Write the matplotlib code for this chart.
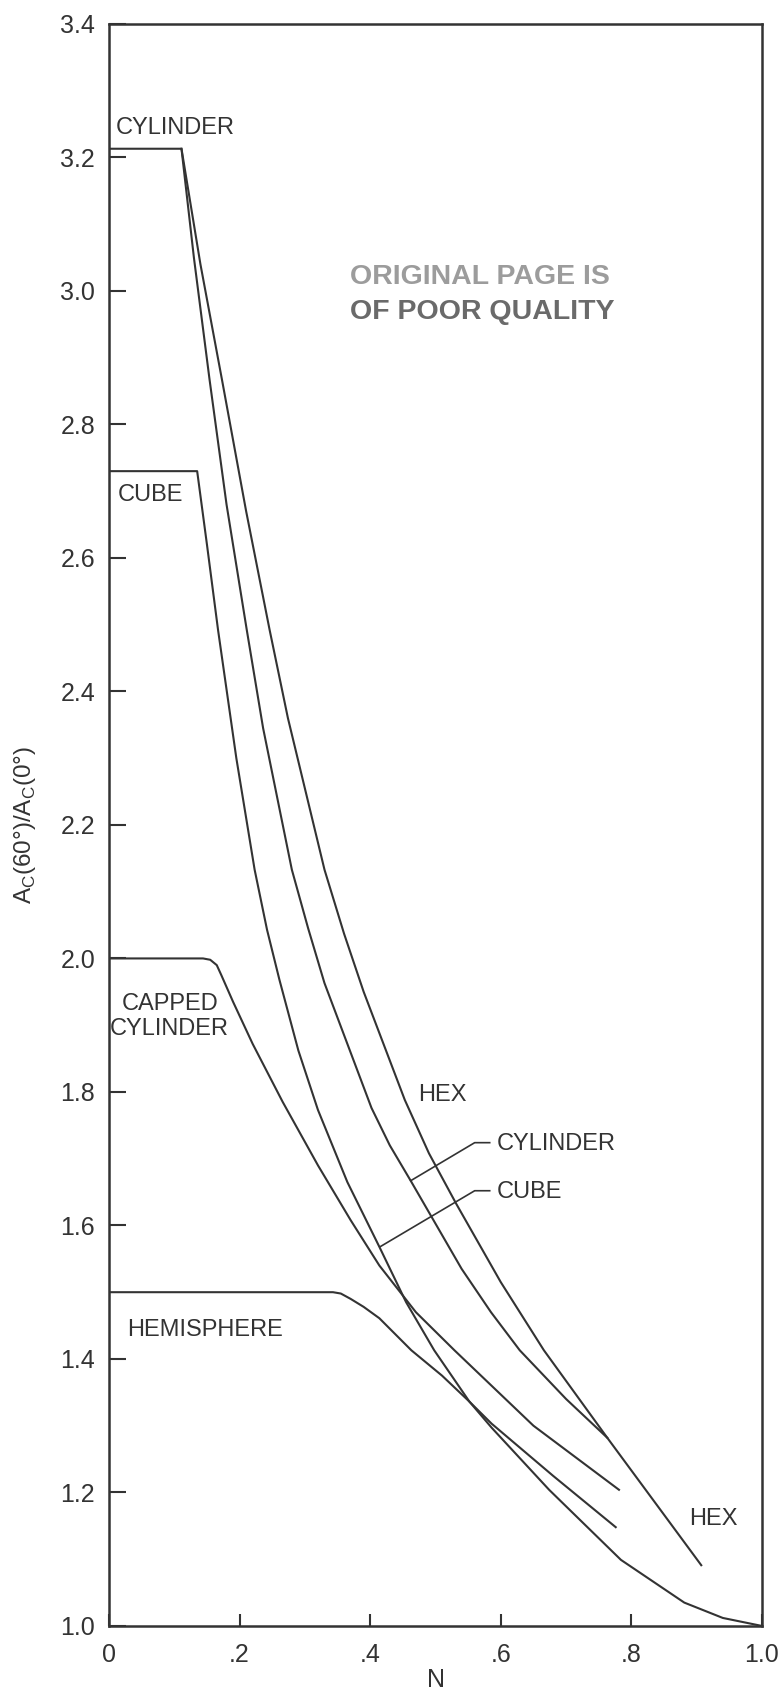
import matplotlib.pyplot as plt

# --- datos (N vs A_C(60)/A_C(0)) ---
cyl_x = [0.0, 0.111, 0.130, 0.154, 0.180, 0.211, 0.236, 0.280, 0.305, 0.330, 0.402, 0.43, 0.462, 0.540, 0.585, 0.629, 0.700, 0.763]
cyl_y = [3.213, 3.213, 3.05, 2.867, 2.68, 2.492, 2.345, 2.133, 2.045, 1.963, 1.776, 1.72, 1.667, 1.535, 1.47, 1.413, 1.340, 1.282]

hex_x = [0.111, 0.140, 0.173, 0.210, 0.246, 0.274, 0.330, 0.36, 0.390, 0.453, 0.49, 0.532, 0.600, 0.666, 0.763, 0.907]
hex_y = [3.213, 3.04, 2.867, 2.67, 2.492, 2.36, 2.133, 2.037, 1.950, 1.788, 1.708, 1.632, 1.515, 1.413, 1.282, 1.091]

cube_x = [0.0, 0.135, 0.150, 0.167, 0.195, 0.223, 0.242, 0.261, 0.29, 0.320, 0.365, 0.414, 0.455, 0.498, 0.552, 0.586, 0.674, 0.784, 0.881, 0.94, 1.0]
cube_y = [2.730, 2.730, 2.62, 2.492, 2.30, 2.133, 2.043, 1.968, 1.862, 1.773, 1.665, 1.568, 1.485, 1.413, 1.336, 1.297, 1.204, 1.099, 1.035, 1.012, 1.0]

capcyl_x = [0.0, 0.144, 0.155, 0.165, 0.172, 0.19, 0.22, 0.266, 0.32, 0.37, 0.414, 0.47, 0.529, 0.65, 0.781]
capcyl_y = [2.0, 2.0, 1.998, 1.99, 1.975, 1.935, 1.872, 1.785, 1.69, 1.608, 1.540, 1.47, 1.413, 1.30, 1.204]

hemi_x = [0.0, 0.343, 0.355, 0.37, 0.39, 0.414, 0.463, 0.51, 0.552, 0.586, 0.68, 0.776]
hemi_y = [1.5, 1.5, 1.498, 1.49, 1.478, 1.461, 1.413, 1.375, 1.336, 1.303, 1.225, 1.148]

xticks = [0, 0.2, 0.4, 0.6, 0.8, 1.0]
xticklabels = ['0', '.2', '.4', '.6', '.8', '1.0']
yticks = [1.0, 1.2, 1.4, 1.6, 1.8, 2.0, 2.2, 2.4, 2.6, 2.8, 3.0, 3.2, 3.4]
yticklabels = ['1.0', '1.2', '1.4', '1.6', '1.8', '2.0', '2.2', '2.4', '2.6', '2.8', '3.0', '3.2', '3.4']

fuente = ['Liberation Sans', 'DejaVu Sans']
color = '#333333'

fig = plt.figure(figsize=(7.82, 16.96), dpi=100)
ax = fig.add_axes([0.1394, 0.0413, 0.835, 0.9446])

for xs, ys in [(cyl_x, cyl_y), (hex_x, hex_y), (cube_x, cube_y),
               (capcyl_x, capcyl_y), (hemi_x, hemi_y)]:
    ax.plot(xs, ys, color=color, linewidth=1.5, solid_joinstyle='round')

# lineas guia de las etiquetas
ax.plot([0.583, 0.560, 0.462], [1.724, 1.724, 1.667], color=color, linewidth=1.2)
ax.plot([0.583, 0.560, 0.415], [1.652, 1.652, 1.568], color=color, linewidth=1.2)

kw = dict(fontsize=17, color=color, family=fuente, va='center')
ax.text(0.101, 3.244, 'CYLINDER', ha='center', **kw)
ax.text(0.063, 2.694, 'CUBE', ha='center', **kw)
ax.text(0.093, 1.913, 'CAPPED\nCYLINDER', ha='center', linespacing=1.2, **kw)
ax.text(0.147, 1.443, 'HEMISPHERE', ha='center', **kw)
ax.text(0.510, 1.795, 'HEX', ha='center', **kw)
ax.text(0.594, 1.722, 'CYLINDER', **kw)
ax.text(0.594, 1.650, 'CUBE', **kw)
ax.text(0.925, 1.160, 'HEX', ha='center', **kw)

# sello del documento escaneado
ax.text(0.369, 3.021, 'ORIGINAL PAGE IS', fontsize=20.5, fontweight='bold',
        color='#9c9c9c', family=fuente, va='center')
ax.text(0.369, 2.968, 'OF POOR QUALITY', fontsize=20.5, fontweight='bold',
        color='#6a6a6a', family=fuente, va='center')

ax.set_xlim(0, 1.0)
ax.set_ylim(1.0, 3.4)
ax.set_xticks(xticks)
ax.set_xticklabels(xticklabels, family=fuente, fontsize=18, color=color)
ax.set_yticks(yticks)
ax.set_yticklabels(yticklabels, family=fuente, fontsize=18, color=color)
ax.tick_params(axis='y', direction='in', length=12, width=1.5, pad=10, colors=color)
ax.tick_params(axis='x', direction='in', length=9, width=1.5, pad=12, colors=color)
for s in ax.spines.values():
    s.set_linewidth(1.8)
    s.set_color(color)

fig.text(0.557, 0.0095, 'N', family=fuente, fontsize=18, color=color,
         ha='center', va='center')
ax.set_ylabel('A$_\\mathregular{C}$(60°)/A$_\\mathregular{C}$(0°)', family=fuente,
              fontsize=17.5, color=color, labelpad=16)

fig.savefig('out.png', dpi=100)
